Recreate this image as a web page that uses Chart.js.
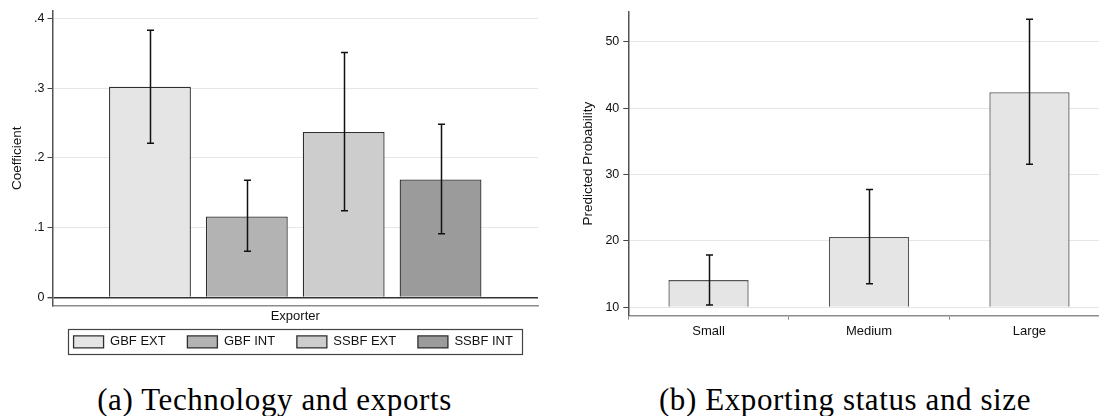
<!DOCTYPE html>
<html>
<head>
<meta charset="utf-8">
<script src="https://cdn.jsdelivr.net/npm/chart.js@4.4.1/dist/chart.umd.min.js"></script>
<style>
  html, body { margin: 0; padding: 0; background: #fff; overflow: hidden; width: 1099px; height: 416px; }
  #wrap { position: relative; width: 1099px; height: 416px; overflow: hidden; }
  #boxA { position: absolute; left: 0; top: 0; width: 549px; height: 371px; }
  #boxB { position: absolute; left: 560px; top: 0; width: 560px; height: 362px; }
  .cap { position: absolute; top: 384px; font-family: "Liberation Serif", "Times New Roman", serif; font-size: 31px; letter-spacing: 0.6px; line-height: 1; color: #000; white-space: nowrap; text-align: center; }
</style>
</head>
<body>
<div id="wrap">
  <div id="boxA"><canvas id="techChart"></canvas></div>
  <div id="boxB"><canvas id="sizeChart"></canvas></div>
  <div class="cap" style="left:0; width:549px;">(a) Technology and exports</div>
  <div class="cap" style="left:570px; width:550px;">(b) Exporting status and size</div>
</div>
<script>
// Panel (a): technology coefficients by exporter type, with 95% intervals
const techGroups = ['GBF EXT', 'GBF INT', 'SSBF EXT', 'SSBF INT'];
const techCoef = [0.302, 0.116, 0.237, 0.169];
const techLow = [0.221, 0.066, 0.124, 0.091];
const techHigh = [0.383, 0.168, 0.351, 0.248];
const techFill = ['#e5e5e5', '#b3b3b3', '#cdcdcd', '#9b9b9b'];
const techTicks = [0, 0.1, 0.2, 0.3, 0.4];
const techTickLabels = ['0', '.1', '.2', '.3', '.4'];

// Panel (b): predicted probability of exporting by firm size
const sizeCats = ['Small', 'Medium', 'Large'];
const sizeProb = [14.1, 20.6, 42.4];
const sizeLow = [10.35, 13.55, 31.55];
const sizeHigh = [17.9, 27.75, 53.4];
const sizeTicks = [10, 20, 30, 40, 50];

const SANS = '"Liberation Sans", Arial, sans-serif';

// Draws capped confidence intervals on top of each bar
const errorBars = {
  id: 'errorBars',
  afterDatasetsDraw(chart) {
    const ctx = chart.ctx;
    const y = chart.scales.y;
    ctx.save();
    ctx.strokeStyle = '#111';
    ctx.lineWidth = 1.5;
    chart.data.datasets.forEach((ds, i) => {
      const meta = chart.getDatasetMeta(i);
      meta.data.forEach((bar, j) => {
        const x = Math.round(bar.x) + 0.5;
        const yl = y.getPixelForValue(ds.errLow[j]);
        const yh = y.getPixelForValue(ds.errHigh[j]);
        ctx.beginPath();
        ctx.moveTo(x, yl); ctx.lineTo(x, yh);
        ctx.moveTo(x - 3.5, yl); ctx.lineTo(x + 3.5, yl);
        ctx.moveTo(x - 3.5, yh); ctx.lineTo(x + 3.5, yh);
        ctx.stroke();
      });
    });
    ctx.restore();
  }
};

// Centres the legend under the plot area, pulls it up closer to the axis and frames it
const legendFrame = {
  id: 'legendFrame',
  afterLayout(chart) {
    const lg = chart.legend;
    if (!lg) return;
    const ca = chart.chartArea;
    const d = (ca.left + ca.right) / 2 - (lg.left + lg.right) / 2 - 2;
    lg.left += d; lg.right += d;
    lg.top -= 12; lg.bottom -= 12;
  },
  afterDraw(chart) {
    const lg = chart.legend;
    if (!lg || !lg.legendHitBoxes || !lg.legendHitBoxes.length) return;
    const hb = lg.legendHitBoxes;
    const l = Math.min(...hb.map(b => b.left)) - 6;
    const r = Math.max(...hb.map(b => b.left + b.width)) + 9;
    const t = hb[0].top - 6;
    const b = hb[0].top + hb[0].height + 6;
    const ctx = chart.ctx;
    ctx.save();
    ctx.strokeStyle = '#444';
    ctx.lineWidth = 1.2;
    ctx.strokeRect(Math.round(l) + 0.5, Math.round(t) + 0.5, Math.round(r - l), Math.round(b - t));
    ctx.restore();
  }
};

new Chart(document.getElementById('techChart'), {
  type: 'bar',
  data: {
    labels: ['Exporter'],
    datasets: techGroups.map((g, i) => ({
      label: g,
      data: [techCoef[i]],
      errLow: [techLow[i]],
      errHigh: [techHigh[i]],
      backgroundColor: techFill[i],
      borderColor: '#2e2e2e',
      borderWidth: 1.3,
      categoryPercentage: 0.798,
      barPercentage: 0.845
    }))
  },
  options: {
    responsive: true,
    maintainAspectRatio: false,
    devicePixelRatio: 1,
    animation: false,
    layout: { padding: { top: 11, right: 11, left: 0, bottom: 0.6 } },
    plugins: {
      legend: {
        position: 'bottom',
        labels: { boxWidth: 30, boxHeight: 12, padding: 21.7, color: '#111', font: { family: SANS, size: 13 } }
      },
      tooltip: { enabled: false }
    },
    scales: {
      x: {
        grid: { display: false, drawTicks: false },
        border: { display: true, color: '#8c8c8c', width: 1.6 },
        ticks: { color: '#111', padding: 3, font: { family: SANS, size: 13 } },
        afterFit: s => { s.height = 20; }
      },
      y: {
        min: -0.012,
        max: 0.4105,
        afterBuildTicks: s => { s.ticks = techTicks.map(v => ({ value: v })); },
        afterFit: s => { s.width = 52.5; },
        ticks: {
          color: '#111',
          padding: 3,
          font: { family: SANS, size: 12.5 },
          callback: (v, idx) => techTickLabels[idx]
        },
        grid: {
          color: c => (c.tick && c.tick.value === 0 ? '#333' : '#e6e6e6'),
          lineWidth: c => (c.tick && c.tick.value === 0 ? 1.4 : 1),
          tickColor: '#444',
          tickLength: 5
        },
        border: { color: '#555', width: 1.5 },
        title: { display: true, text: 'Coefficient', color: '#111', padding: { top: 9, bottom: 0 }, font: { family: SANS, size: 13.5 } }
      }
    }
  },
  plugins: [errorBars, legendFrame]
});

new Chart(document.getElementById('sizeChart'), {
  type: 'bar',
  data: {
    labels: sizeCats,
    datasets: [{
      label: 'Predicted Probability',
      data: sizeProb,
      errLow: sizeLow,
      errHigh: sizeHigh,
      base: 10,
      backgroundColor: '#e5e5e5',
      borderColor: '#555',
      borderWidth: 1.3,
      categoryPercentage: 1,
      barPercentage: 0.5
    }]
  },
  options: {
    responsive: true,
    maintainAspectRatio: false,
    devicePixelRatio: 1,
    animation: false,
    layout: { padding: { top: 11, right: 10.3, left: 0, bottom: 0 } },
    plugins: { legend: { display: false }, tooltip: { enabled: false } },
    scales: {
      x: {
        grid: { display: true, drawOnChartArea: false, drawTicks: true, tickLength: 4, color: '#888', tickColor: '#888' },
        border: { display: true, color: '#8c8c8c', width: 1.6 },
        ticks: { color: '#111', padding: 4, font: { family: SANS, size: 13 } },
        afterFit: s => { s.height = 46.3; }
      },
      y: {
        min: 8.74,
        max: 54.56,
        afterBuildTicks: s => { s.ticks = sizeTicks.map(v => ({ value: v })); },
        afterFit: s => { s.width = 68.3; },
        ticks: { color: '#111', padding: 4, font: { family: SANS, size: 12.5 } },
        grid: { color: '#e6e6e6', lineWidth: 1, tickColor: '#444', tickLength: 5 },
        border: { color: '#555', width: 1.5 },
        title: { display: true, text: 'Predicted Probability', color: '#111', padding: { top: 20, bottom: 0 }, font: { family: SANS, size: 13.5 } }
      }
    }
  },
  plugins: [errorBars]
});
</script>
</body>
</html>
